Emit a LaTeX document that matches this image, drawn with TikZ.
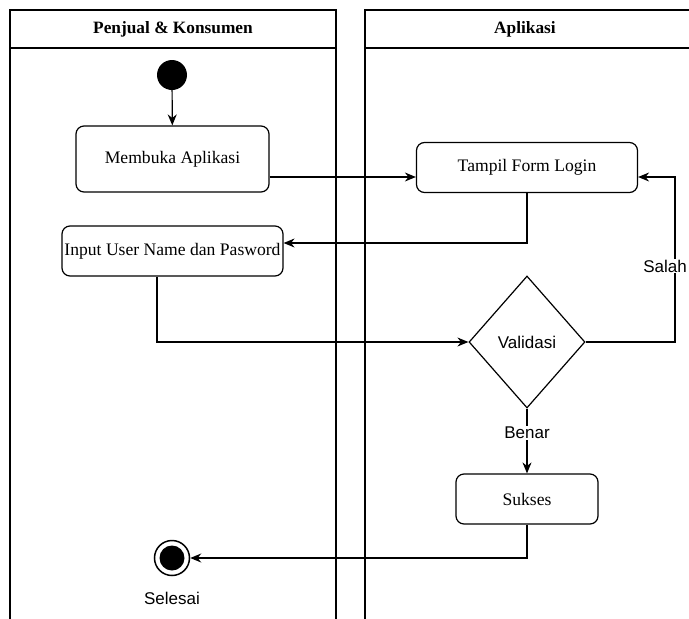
\documentclass[tikz,border=0pt]{standalone}
\usepackage{fontspec}
\setmainfont{Liberation Serif}
\setsansfont{Liberation Sans}
\usetikzlibrary{arrows.meta,shapes.geometric}

\begin{document}
\begin{tikzpicture}[x=1pt,y=-1pt,
  lane/.style={draw, line width=1.2pt},
  lanehead/.style={font=\bfseries\fontsize{17.3}{20}\selectfont},
  act/.style={draw, rounded corners=8pt, line width=1.2pt, inner sep=0pt,
              font=\fontsize{17.6}{20}\selectfont},
  flow/.style={line width=1.2pt, -{Stealth[length=11pt,width=9pt]}},
  lbl/.style={fill=white, inner sep=1pt, font=\sffamily\fontsize{17}{20}\selectfont},
]
\useasboundingbox (0,0) rectangle (689,619);
\clip (0,0) rectangle (689,619);
\fill[white] (0,0) rectangle (689,619);

% swimlanes
\draw[lane] (10,640) -- (10,10) -- (336,10) -- (336,640);
\draw[lane] (10,48) -- (336,48);
\draw[lane] (365,640) -- (365,10) -- (700,10);
\draw[lane] (365,48) -- (700,48);
\node[lanehead] (h1) at (173,29) {Penjual \& Konsumen};
\node[lanehead] (h2) at (525,29) {Aplikasi};

% helper coordinates for the connector routes
\coordinate (y1) at (0,177);
\coordinate (y2) at (0,243);
\coordinate (x3) at (157,0);
\coordinate (x4) at (675,0);

% activities
\node[circle, fill=black, minimum size=30pt, inner sep=0pt] (start) at (172,75) {};
\node[act, minimum width=193pt, minimum height=66pt] (buka) at (172.5,159) {Membuka Aplikasi};
\node[act, minimum width=221pt, minimum height=50pt] (form) at (527,167.5) {Tampil Form Login};
\node[act, minimum width=221pt, minimum height=50pt] (input) at (172.5,251) {Input User Name dan Pasword};
\node[diamond, draw, line width=1.2pt, inner sep=0pt, aspect=0.88,
      minimum width=116pt, minimum height=132pt,
      font=\sffamily\fontsize{17}{20}\selectfont] (val) at (527,342) {Validasi};
\node[act, minimum width=142pt, minimum height=50pt] (sukses) at (527,499) {Sukses};
\node[circle, draw, line width=1.5pt, minimum size=35pt, inner sep=0pt,
      path picture={\fill (path picture bounding box.center) circle (12.5pt);}] (end) at (172,558) {};
\node[lbl] (endlbl) at (172,598) {Selesai};

% flows
\draw[flow] (start) -- (buka);
\draw[flow] (buka.east |- y1) -- (form.west |- y1);
\draw[flow] (form.south) -- (form.south |- y2) -- (input.east |- y2);
\draw[flow] (input.south -| x3) -- (x3 |- val.west) -- (val.west);
\draw[flow] (val.east) -- (x4 |- val.east) -- (x4 |- y1) -- (form.east |- y1);
\node[lbl] (salah) at (665,266) {Salah};
\draw[flow] (val.south) -- (sukses.north);
\node[lbl] (benar) at (527,433) {Benar};
\draw[flow] (sukses.south) -- (sukses.south |- end) -- (end);
\end{tikzpicture}
\end{document}
